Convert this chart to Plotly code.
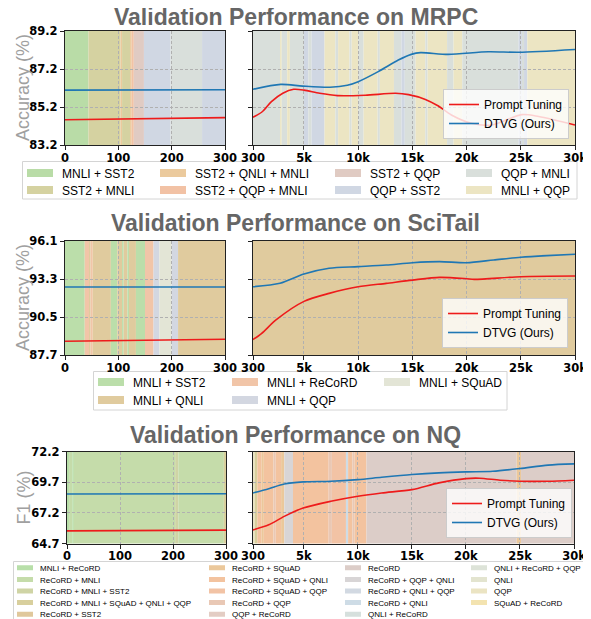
import plotly.graph_objects as go

# The page body has an 8px margin, so the figure is drawn 8px in from the corner.
OFFSET = 8
W, H = 591 - OFFSET, 619 - OFFSET

# ---------------- data ----------------
LEFT_STEPS = [0, 100, 200, 300]
LEFT_XTICKS = [0, 100, 200, 300]
RIGHT_XTICKS = [300, 5000, 10000, 15000, 20000, 25000, 30000]
RIGHT_XTICKTEXT = ["300", "5k", "10k", "15k", "20k", "25k", "30k"]

# MRPC
MRPC_YTICKS = [83.2, 85.2, 87.2, 89.2]
MRPC_LEFT_PT = [84.53, 84.57, 84.61, 84.64]
MRPC_LEFT_DTVG = [86.09, 86.10, 86.10, 86.11]
MRPC_PT_STEPS = [300, 1150, 2000, 3050, 4050, 5000, 6450, 8100, 10650, 13450, 14650,
                 16200, 17400, 18600, 20450, 22300, 25100, 26650, 30000]
MRPC_PT = [84.66, 84.95, 85.48, 85.92, 86.13, 86.09, 85.92, 85.80, 85.82, 85.92, 85.85,
           85.60, 85.25, 84.78, 84.34, 84.25, 84.80, 84.70, 84.25]
MRPC_DTVG_STEPS = [300, 2860, 4900, 7400, 9000, 10000, 11850, 13700, 14900, 15750,
                   18300, 22000, 24800, 30000]
MRPC_DTVG = [86.13, 86.39, 86.30, 86.24, 86.34, 86.53, 87.06, 87.67, 87.97, 88.06,
             87.97, 88.11, 88.08, 88.23]
MRPC_LEGEND = ["MNLI + SST2", "SST2 + MNLI", "SST2 + QNLI + MNLI", "SST2 + QQP + MNLI",
               "SST2 + QQP", "QQP + SST2", "QQP + MNLI", "MNLI + QQP"]
MRPC_COLORS = ["#b9dca7", "#d5d2a1", "#ebca9d", "#f2c2a5",
               "#e0cbc3", "#d0d7e3", "#d9dfdb", "#ece5c3"]
MRPC_LEFT_BANDS = [
    (0, 44, "MNLI + SST2"), (44, 104, "SST2 + MNLI"), (104, 107, "SST2 + QNLI + MNLI"),
    (107, 122, "SST2 + MNLI"), (122, 125, "SST2 + QNLI + MNLI"), (125, 129, "SST2 + QQP + MNLI"),
    (129, 148, "SST2 + QQP"), (148, 198, "QQP + SST2"), (198, 257, "QQP + MNLI"),
    (257, 300, "QQP + SST2"),
]
MRPC_RIGHT_BANDS = [
    (300, 2800, "QQP + MNLI"), (2800, 2950, "MNLI + QQP"), (2950, 3450, "QQP + MNLI"),
    (3450, 3700, "MNLI + QQP"), (3700, 5000, "QQP + MNLI"), (5000, 5400, "QQP + SST2"),
    (5400, 5700, "QQP + MNLI"), (5700, 6900, "QQP + SST2"), (6900, 7900, "MNLI + QQP"),
    (7900, 8150, "QQP + MNLI"), (8150, 9200, "MNLI + QQP"), (9200, 9400, "QQP + MNLI"),
    (9400, 10000, "MNLI + QQP"), (10000, 10500, "QQP + MNLI"), (10500, 11800, "MNLI + QQP"),
    (11800, 12000, "QQP + MNLI"), (12000, 13300, "MNLI + QQP"), (13300, 14000, "QQP + MNLI"),
    (14000, 14300, "QQP + SST2"), (14300, 15300, "QQP + MNLI"), (15300, 16200, "MNLI + QQP"),
    (16200, 16400, "QQP + MNLI"), (16400, 18200, "MNLI + QQP"), (18200, 18800, "QQP + MNLI"),
    (18800, 19600, "MNLI + QQP"), (19600, 24800, "QQP + MNLI"), (24800, 25100, "QQP + SST2"),
    (25100, 25300, "QQP + MNLI"), (25300, 25600, "QQP + SST2"), (25600, 30000, "MNLI + QQP"),
]

# SciTail
SCITAIL_YTICKS = [87.7, 90.5, 93.3, 96.1]
SCITAIL_LEFT_PT = [88.71, 88.76, 88.81, 88.86]
SCITAIL_LEFT_DTVG = [92.71, 92.71, 92.71, 92.71]
SCITAIL_PT_STEPS = [300, 1080, 2450, 5000, 7320, 10000, 12590, 15000, 17500, 20000,
                    20700, 25000, 30000]
SCITAIL_PT = [88.84, 89.28, 90.30, 91.65, 92.24, 92.73, 92.98, 93.22, 93.42, 93.32,
              93.27, 93.47, 93.52]
SCITAIL_DTVG_STEPS = [300, 2790, 5000, 7320, 10000, 12590, 15000, 17500, 20000, 22500,
                      25000, 27400, 30000]
SCITAIL_DTVG = [92.73, 92.99, 93.67, 94.09, 94.21, 94.33, 94.50, 94.58, 94.50, 94.70,
                94.90, 95.02, 95.12]
SCITAIL_LEGEND = ["MNLI + SST2", "MNLI + QNLI", "MNLI + ReCoRD", "MNLI + QQP", "MNLI + SQuAD"]
SCITAIL_COLORS = ["#bbdeaa", "#e0cb9e", "#f1c5a8", "#d3d7e1", "#e3e5d6"]
SCITAIL_LEFT_BANDS = [
    (0, 37, "MNLI + SST2"), (37, 45, "MNLI + ReCoRD"), (45, 48, "MNLI + QNLI"),
    (48, 52, "MNLI + ReCoRD"), (52, 86, "MNLI + QNLI"), (86, 98, "MNLI + SST2"),
    (98, 107, "MNLI + QNLI"), (107, 110, "MNLI + SST2"), (110, 117, "MNLI + QNLI"),
    (117, 120, "MNLI + SST2"), (120, 133, "MNLI + QNLI"), (133, 150, "MNLI + SST2"),
    (150, 166, "MNLI + ReCoRD"), (166, 177, "MNLI + QQP"), (177, 200, "MNLI + SQuAD"),
    (200, 212, "MNLI + QQP"), (212, 300, "MNLI + QNLI"),
]
SCITAIL_RIGHT_BANDS = [(300, 30000, "MNLI + QNLI")]

# NQ
NQ_YTICKS = [64.7, 67.2, 69.7, 72.2]
NQ_LEFT_PT = [65.73, 65.75, 65.77, 65.79]
NQ_LEFT_DTVG = [68.74, 68.74, 68.75, 68.75]
NQ_PT_STEPS = [300, 1760, 3190, 4940, 7500, 10000, 12200, 15000, 17500, 20000, 21260,
               23160, 25000, 27600, 30000]
NQ_PT = [65.81, 66.22, 66.91, 67.59, 68.14, 68.55, 68.82, 69.09, 69.64, 69.99, 70.02,
         69.86, 69.78, 69.78, 69.86]
NQ_DTVG_STEPS = [300, 1760, 3190, 4940, 7500, 10000, 12200, 15000, 17500, 20000, 22500,
                 25000, 27600, 30000]
NQ_DTVG = [68.82, 69.17, 69.55, 69.72, 69.77, 69.91, 70.10, 70.32, 70.46, 70.54, 70.59,
           70.81, 71.09, 71.19]
NQ_LEGEND = ["MNLI + ReCoRD", "ReCoRD + MNLI", "ReCoRD + MNLI + SST2",
             "ReCoRD + MNLI + SQuAD + QNLI + QQP", "ReCoRD + SST2",
             "ReCoRD + SQuAD", "ReCoRD + SQuAD + QNLI", "ReCoRD + SQuAD + QQP",
             "ReCoRD + QQP", "QQP + ReCoRD",
             "ReCoRD", "ReCoRD + QQP + QNLI", "ReCoRD + QNLI + QQP", "ReCoRD + QNLI",
             "QNLI + ReCoRD",
             "QNLI + ReCoRD + QQP", "QNLI", "QQP", "SQuAD + ReCoRD"]
NQ_COLORS = ["#b8dfa9", "#c5dcaa", "#cfd4a5", "#d8cf9d", "#e0c89c",
             "#ebc89b", "#f3c39f", "#f2c3a5", "#e9c8b5", "#e3cdc4",
             "#dccdc8", "#d8d5d6", "#d2d9e2", "#cedce6", "#d6e0dd",
             "#dde3d8", "#e3e4cf", "#ebe4c3", "#f3e3b0"]
NQ_LEFT_BANDS = [
    (0, 4, "MNLI + ReCoRD"), (4, 10, "ReCoRD + MNLI"), (10, 13, "MNLI + ReCoRD"),
    (13, 204, "ReCoRD + MNLI"), (204, 210, "ReCoRD + MNLI + SST2"), (210, 296, "ReCoRD + MNLI"),
    (296, 300, "ReCoRD + MNLI + SQuAD + QNLI + QQP"),
]
NQ_RIGHT_BANDS = [
    (300, 450, "QQP"), (450, 700, "ReCoRD + MNLI + SQuAD + QNLI + QQP"),
    (700, 1100, "ReCoRD + SQuAD + QNLI"), (1100, 1300, "ReCoRD + SQuAD"),
    (1300, 2200, "ReCoRD + SQuAD + QNLI"), (2200, 2400, "ReCoRD + QQP"),
    (2400, 2900, "ReCoRD + SQuAD + QNLI"), (2900, 3200, "ReCoRD + SQuAD"),
    (3200, 4000, "ReCoRD + QQP + QNLI"), (4000, 7300, "ReCoRD + SQuAD + QNLI"),
    (7300, 7600, "ReCoRD + QQP"), (7600, 8900, "ReCoRD + SQuAD + QQP"),
    (8900, 9100, "ReCoRD + QNLI"), (9100, 9500, "ReCoRD + SQuAD + QNLI"),
    (9500, 9700, "ReCoRD + QQP"), (9700, 10800, "ReCoRD + SQuAD + QNLI"),
    (10800, 24700, "ReCoRD"), (24700, 25100, "ReCoRD + SQuAD"), (25100, 30000, "ReCoRD"),
]

# ---------------- style / layout ----------------
PT_COLOR = "#ee1b1b"
DTVG_COLOR = "#1f77b4"
TICK_FONT = dict(family="DejaVu Sans", size=11.5, color="black", weight="bold")
LEG_FAMILY = "Liberation Sans"

ROWS = [
    dict(title="Validation Performance on MRPC", title_y=16.5, ylabel="Accuracy (%)",
         top=31, bottom=145, lx=(65, 225), rx=(253, 575), yticks=MRPC_YTICKS,
         left=(MRPC_LEFT_PT, MRPC_LEFT_DTVG),
         right=(MRPC_PT_STEPS, MRPC_PT, MRPC_DTVG_STEPS, MRPC_DTVG),
         bands=(MRPC_LEFT_BANDS, MRPC_RIGHT_BANDS),
         legend=MRPC_LEGEND, colors=MRPC_COLORS, nrows=2,
         text_x=[62, 195, 370, 501], row_y=[173, 190], font=12, icon_w=8,
         icon_dash="26px,200px", frame=(22.5, 161.5, 577, 199),
         inner=(569, 139)),
    dict(title="Validation Performance on SciTail", title_y=223, ylabel="Accuracy (%)",
         top=241, bottom=355, lx=(65, 225), rx=(253, 575), yticks=SCITAIL_YTICKS,
         left=(SCITAIL_LEFT_PT, SCITAIL_LEFT_DTVG),
         right=(SCITAIL_PT_STEPS, SCITAIL_PT, SCITAIL_DTVG_STEPS, SCITAIL_DTVG),
         bands=(SCITAIL_LEFT_BANDS, SCITAIL_RIGHT_BANDS),
         legend=SCITAIL_LEGEND, colors=SCITAIL_COLORS, nrows=2,
         text_x=[133, 267, 419], row_y=[382, 400], font=12, icon_w=8,
         icon_dash="26px,200px", frame=(93.5, 371.5, 507, 410),
         inner=(568, 348)),
    dict(title="Validation Performance on NQ", title_y=435, ylabel="F1 (%)",
         top=451.5, bottom=543.5, lx=(67, 226), rx=(253, 574), yticks=NQ_YTICKS,
         left=(NQ_LEFT_PT, NQ_LEFT_DTVG),
         right=(NQ_PT_STEPS, NQ_PT, NQ_DTVG_STEPS, NQ_DTVG),
         bands=(NQ_LEFT_BANDS, NQ_RIGHT_BANDS),
         legend=NQ_LEGEND, colors=NQ_COLORS, nrows=5,
         text_x=[40, 232, 368, 494], row_y=[567.8, 579.4, 591, 602.6, 614.2], font=8,
         icon_w=5, icon_dash="0px,12px,16px,200px", frame=(13.5, 561.5, 586, 640),
         inner=(572, 538)),
]


def fx(p):
    return (p - OFFSET) / W


def fy(p):
    return 1 - (p - OFFSET) / H


fig = go.Figure()
layout = dict(width=W, height=H, autosize=False,
              margin=dict(l=0, r=0, t=0, b=0, pad=0, autoexpand=False),
              paper_bgcolor="white", plot_bgcolor="white", hovermode=False,
              showlegend=True, shapes=[], annotations=[])

legend_count = [0]


def new_legend(**kw):
    legend_count[0] += 1
    name = "legend" if legend_count[0] == 1 else f"legend{legend_count[0]}"
    base = dict(bgcolor="rgba(0,0,0,0)", borderwidth=0, itemclick=False,
                itemdoubleclick=False, orientation="v", tracegroupgap=0,
                xanchor="left", yanchor="middle", itemwidth=30)
    base.update(kw)
    layout[name] = base
    return name


def axis_common(domain, anchor):
    return dict(domain=domain, anchor=anchor, showline=True, mirror=True,
                linecolor="#222222", linewidth=1.3, ticks="outside", ticklen=4,
                tickwidth=1, tickcolor="#222222", showgrid=True, gridcolor="#b0b0b0",
                gridwidth=0.8, griddash="3px,2px", zeroline=False, tickfont=TICK_FONT,
                fixedrange=True, automargin=False)


for r, row in enumerate(ROWS):
    li, ri = 2 * r + 1, 2 * r + 2
    names = {}
    for idx, (px0, px1) in ((li, row["lx"]), (ri, row["rx"])):
        xk = "xaxis" if idx == 1 else f"xaxis{idx}"
        yk = "yaxis" if idx == 1 else f"yaxis{idx}"
        xr = "x" if idx == 1 else f"x{idx}"
        yr = "y" if idx == 1 else f"y{idx}"
        names[idx] = (xr, yr)
        ydom = [fy(row["bottom"]), fy(row["top"])]
        xa = axis_common([fx(px0), fx(px1)], yr)
        xa.update(ticklabelstandoff=-2)
        ya = axis_common(ydom, xr)
        if idx == li:
            xa.update(range=[0, 300], tickmode="array", tickvals=LEFT_XTICKS,
                      ticktext=[str(v) for v in LEFT_XTICKS])
            ya.update(showticklabels=True)
        else:
            xa.update(range=[300, 30000], tickmode="array", tickvals=RIGHT_XTICKS,
                      ticktext=RIGHT_XTICKTEXT)
            ya.update(showticklabels=False)
        ya.update(range=[row["yticks"][0], row["yticks"][-1]], tickmode="array",
                  tickvals=row["yticks"], ticktext=[f"{v:.1f}" for v in row["yticks"]])
        layout[xk] = xa
        layout[yk] = ya

    cmap = dict(zip(row["legend"], row["colors"]))
    # background bands
    for idx, bands in ((li, row["bands"][0]), (ri, row["bands"][1])):
        xr, yr = names[idx]
        for s, e, lab in bands:
            layout["shapes"].append(dict(type="rect", xref=xr, yref=f"{yr} domain",
                                         x0=s, x1=e, y0=0, y1=1, fillcolor=cmap[lab],
                                         line=dict(width=0), layer="below"))

    # left-panel lines
    xr, yr = names[li]
    lpt, ldt = row["left"]
    fig.add_trace(go.Scatter(x=LEFT_STEPS, y=lpt, mode="lines", xaxis=xr, yaxis=yr,
                             line=dict(color=PT_COLOR, width=1.6), showlegend=False))
    fig.add_trace(go.Scatter(x=LEFT_STEPS, y=ldt, mode="lines", xaxis=xr, yaxis=yr,
                             line=dict(color=DTVG_COLOR, width=1.6), showlegend=False))

    # right-panel lines with inner legend
    inner = new_legend(xanchor="right", yanchor="bottom", x=fx(row["inner"][0]),
                       y=fy(row["inner"][1]), bgcolor="rgba(255,255,255,0.8)",
                       bordercolor="#cccccc", borderwidth=1,
                       font=dict(family=LEG_FAMILY, size=12, color="black"))
    xr, yr = names[ri]
    ps, pv, ds, dv = row["right"]
    fig.add_trace(go.Scatter(x=ps, y=pv, mode="lines", xaxis=xr, yaxis=yr,
                             name="Prompt Tuning", legend=inner,
                             line=dict(color=PT_COLOR, width=1.6, shape="spline",
                                       smoothing=0.8)))
    fig.add_trace(go.Scatter(x=ds, y=dv, mode="lines", xaxis=xr, yaxis=yr,
                             name="DTVG (Ours)", legend=inner,
                             line=dict(color=DTVG_COLOR, width=1.6, shape="spline",
                                       smoothing=0.8)))

    # band legend (one small legend per entry, column-major like matplotlib)
    lx_r, ly_r = names[li]
    for k, lab in enumerate(row["legend"]):
        col, rr = divmod(k, row["nrows"])
        lg = new_legend(x=fx(row["text_x"][col] - 40), y=fy(row["row_y"][rr]),
                        font=dict(family=LEG_FAMILY, size=row["font"], color="black"))
        fig.add_trace(go.Scatter(x=[None], y=[None], mode="lines", xaxis=lx_r, yaxis=ly_r,
                                 name=lab, legend=lg,
                                 line=dict(color=cmap[lab], width=row["icon_w"],
                                           dash=row["icon_dash"])))

    # legend frame
    x0, y0, x1, y1 = row["frame"]
    layout["shapes"].append(dict(type="rect", xref="paper", yref="paper",
                                 x0=fx(x0), x1=fx(x1), y0=fy(y1), y1=fy(y0),
                                 line=dict(color="#d4d4d4", width=1),
                                 fillcolor="white", layer="below"))

    # title and y label
    layout["annotations"].append(dict(text=row["title"], xref="paper", yref="paper",
                                      x=fx(295.5), y=fy(row["title_y"]), xanchor="center",
                                      yanchor="middle", showarrow=False,
                                      font=dict(family="Liberation Sans", size=23,
                                                color="#666666", weight="bold")))
    layout["annotations"].append(dict(text=row["ylabel"], xref="paper", yref="paper",
                                      x=fx(23), y=fy((row["top"] + row["bottom"]) / 2),
                                      xanchor="center", yanchor="middle", textangle=-90,
                                      showarrow=False,
                                      font=dict(family="Liberation Sans", size=18,
                                                color="#a0a0a0")))

fig.update_layout(**layout)
fig.write_html("out.html")
